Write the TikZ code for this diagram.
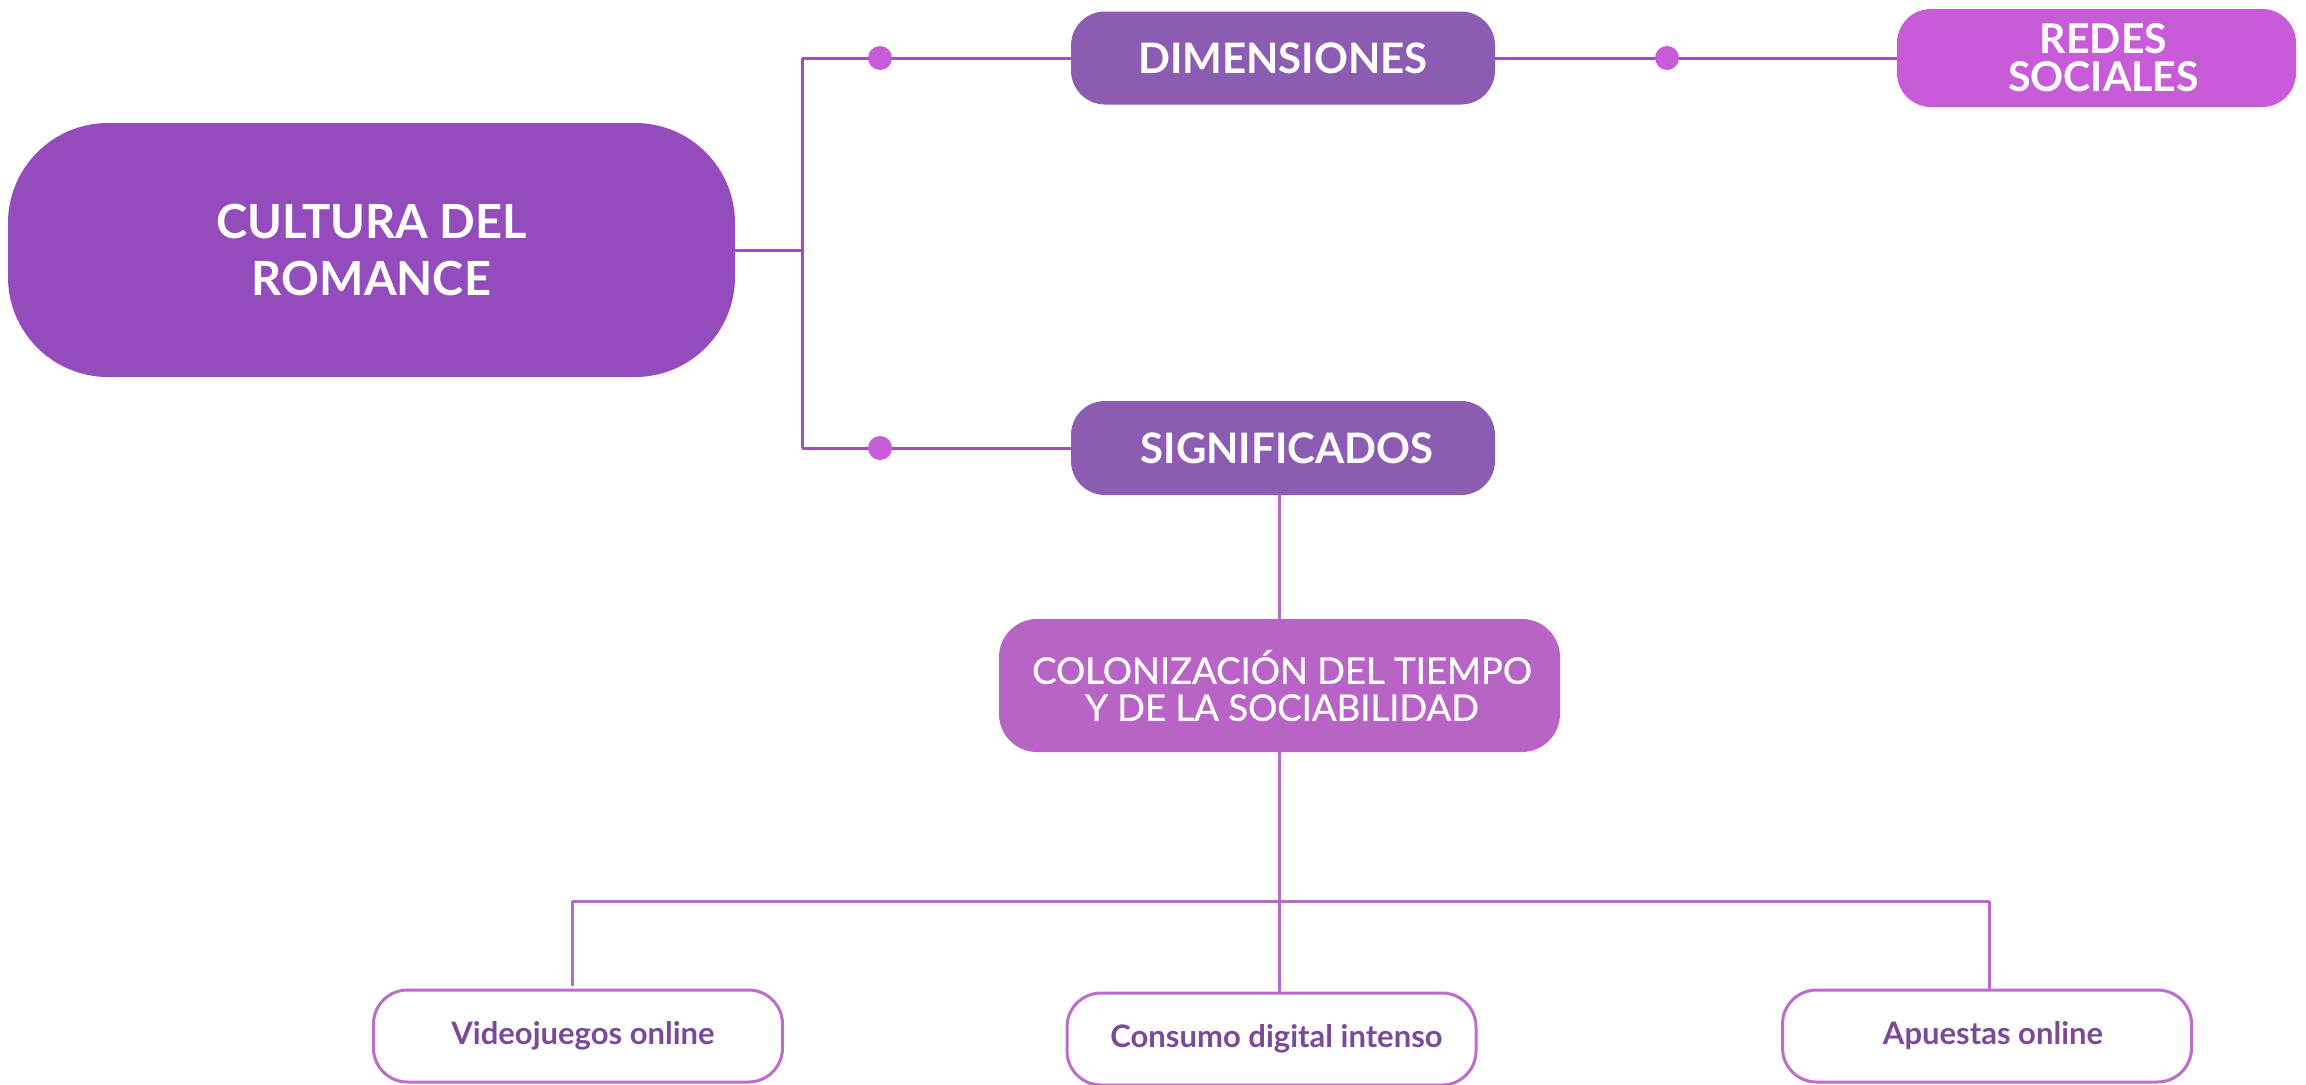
\documentclass[tikz,border=0pt]{standalone}
\usepackage{fontspec}
\setmainfont{Lato}
\newfontfamily\latomed{Lato}[FakeBold=0.7]
\definecolor{mainc}{HTML}{944BBC}
\definecolor{dimc}{HTML}{8C5CB3}
\definecolor{redc}{HTML}{C85CD8}
\definecolor{colc}{HTML}{B864C6}
\definecolor{dotc}{HTML}{C85CD8}
\definecolor{linec}{HTML}{9B4FC0}
\definecolor{line2c}{HTML}{B86AC9}
\definecolor{leafc}{HTML}{BD6BCD}
\definecolor{leaftxt}{HTML}{7A4A99}
\begin{document}
\begin{tikzpicture}[x=1pt,y=-1pt,
  box/.style={rectangle, inner sep=0pt, align=center, text=white, font=\bfseries},
  leaf/.style={rectangle, rounded corners=34pt, draw=leafc, line width=3pt, fill=white,
     minimum width=409pt, minimum height=92pt, inner sep=0pt, text=leaftxt,
     font=\fontsize{31}{36}\selectfont\bfseries},
  conn/.style={draw=linec, line width=3pt},
  conn2/.style={draw=line2c, line width=3pt},
  dotnode/.style={circle, fill=dotc, minimum size=24pt, inner sep=0pt}]
\useasboundingbox (0,0) rectangle (2306,1084);
\fill[white] (0,0) rectangle (2306,1084);

% nodes
\node[box, fill=mainc, rounded corners=100pt, minimum width=727pt, minimum height=254pt,
  font=\fontsize{47}{57}\selectfont\bfseries] (main) at (371.5,250) {CULTURA DEL\\ROMANCE};
\node[box, fill=dimc, rounded corners=34pt, minimum width=424pt, minimum height=93pt,
  font=\fontsize{42}{48}\selectfont\bfseries] (dim) at (1283,58) {DIMENSIONES};
\node[box, fill=redc, rounded corners=34pt, minimum width=399pt, minimum height=98pt,
  font=\fontsize{41}{38}\selectfont\bfseries] (red) at (2096.5,58) {\hspace*{14pt}REDES\\\hspace*{14pt}SOCIALES};
\node[box, fill=dimc, rounded corners=34pt, minimum width=424pt, minimum height=94pt,
  font=\fontsize{42}{48}\selectfont\bfseries] (sig) at (1283,448) {\hspace*{8pt}SIGNIFICADOS};
\node[box, fill=colc, rounded corners=38pt, minimum width=561pt, minimum height=133pt,
  font=\latomed\fontsize{36.5}{37}\selectfont] (col) at (1279.5,685.5) {\hspace*{5pt}COLONIZACIÓN DEL TIEMPO\\\hspace*{5pt}Y DE LA SOCIABILIDAD};
\node[leaf] (vid) at (578,1036) {\hspace*{10pt}Videojuegos online};
\node[leaf] (cons) at (1271.5,1039) {\hspace*{10pt}Consumo digital intenso};
\node[leaf] (apu) at (1987,1036) {\hspace*{12pt}Apuestas online};

% junction coordinates
\coordinate (jm) at (802,250);
\coordinate (jt) at (802,58);
\coordinate (jb) at (802,448);
\coordinate (busL) at (572,901);
\coordinate (busR) at (1989,901);

% upper connectors
\draw[conn] (main.east) -- (jm);
\draw[conn] (jt) -- (jb);
\draw[conn] (jt) -- (dim.west);
\draw[conn] (jb) -- (sig.west);
\draw[conn] (dim.east) -- (red.west);
\node[dotnode] (d1) at (880,58) {};
\node[dotnode] (d2) at (880,448) {};
\node[dotnode] (d3) at (1667,58) {};

% lower connectors
\draw[conn2] (sig.south -| col.north) -- (col.north);
\draw[conn2] (col.south) -- (col.south |- cons.north);
\draw[conn2] (busL) -- (busR);
\draw[conn2] (busL) -- ([yshift=3pt]busL |- vid.north);
\draw[conn2] (busR) -- (busR |- apu.north);
\end{tikzpicture}
\end{document}
